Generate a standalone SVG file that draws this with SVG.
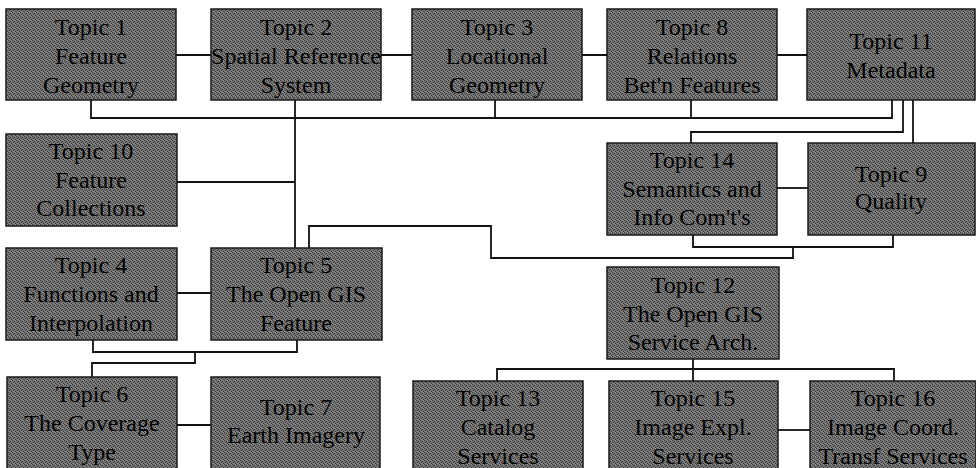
<svg xmlns="http://www.w3.org/2000/svg" width="976" height="468" viewBox="0 0 976 468">
<style>
.box{fill:url(#ht);stroke:#1a1a1a;stroke-width:1.5}
.t{font-family:"Liberation Serif","Times New Roman",serif;font-size:24px;fill:#000;text-anchor:middle}
.c{fill:none;stroke:#111;stroke-width:1.8}
</style>
<defs>
<pattern id="ht" width="4" height="4" patternUnits="userSpaceOnUse">
<rect width="4" height="4" fill="#747474"/>
<rect x="0" y="0" width="1" height="1" fill="#383838"/>
<rect x="2" y="1" width="1" height="1" fill="#383838"/>
<rect x="1" y="2" width="1" height="1" fill="#383838"/>
<rect x="3" y="3" width="1" height="1" fill="#383838"/>
<rect x="3" y="0" width="1" height="1" fill="#949494"/>
<rect x="1" y="3" width="1" height="1" fill="#949494"/>
</pattern>
</defs>
<rect width="976" height="468" fill="#fff"/>
<g id="connectors">
<path class="c" d="M176,55H211M381,55H412M582,55H607M777,55H807"/>
<path class="c" d="M91,100V118H892V100M495,100V118M691,100V118M295,100V248"/>
<path class="c" d="M903,100V132H691V143M913,100V143"/>
<path class="c" d="M177,182H295"/>
<path class="c" d="M777,188H808"/>
<path class="c" d="M693,235V247H893V235M793,247V258H491V226H309V248"/>
<path class="c" d="M177,293H211"/>
<path class="c" d="M93,340V352H297V340M195,352V363H92V377"/>
<path class="c" d="M177,425H211"/>
<path class="c" d="M693,359V381M497,381V369H894V381"/>
<path class="c" d="M778,430H810"/>
</g>
<g id="topic1"><rect class="box" x="6" y="9" width="170" height="91"/><text class="t" x="91" y="35">Topic 1</text><text class="t" x="91" y="64">Feature</text><text class="t" x="91" y="93">Geometry</text></g>
<g id="topic2"><rect class="box" x="211" y="9" width="170" height="91"/><text class="t" x="296" y="35">Topic 2</text><text class="t" x="296" y="64">Spatial Reference</text><text class="t" x="296" y="93">System</text></g>
<g id="topic3"><rect class="box" x="412" y="9" width="170" height="91"/><text class="t" x="497" y="35">Topic 3</text><text class="t" x="497" y="64">Locational</text><text class="t" x="497" y="93">Geometry</text></g>
<g id="topic8"><rect class="box" x="607" y="9" width="170" height="91"/><text class="t" x="692" y="35">Topic 8</text><text class="t" x="692" y="64">Relations</text><text class="t" x="692" y="93">Bet'n Features</text></g>
<g id="topic11"><rect class="box" x="807" y="9" width="168" height="91"/><text class="t" x="891" y="49">Topic 11</text><text class="t" x="891" y="78">Metadata</text></g>
<g id="topic10"><rect class="box" x="6" y="134" width="171" height="92"/><text class="t" x="91" y="159">Topic 10</text><text class="t" x="91" y="188">Feature</text><text class="t" x="91" y="216">Collections</text></g>
<g id="topic14"><rect class="box" x="607" y="143" width="170" height="92"/><text class="t" x="692" y="168">Topic 14</text><text class="t" x="692" y="197">Semantics and</text><text class="t" x="692" y="225">Info Com't's</text></g>
<g id="topic9"><rect class="box" x="808" y="143" width="167" height="92"/><text class="t" x="891" y="182">Topic 9</text><text class="t" x="891" y="209">Quality</text></g>
<g id="topic4"><rect class="box" x="6" y="248" width="171" height="92"/><text class="t" x="91" y="273">Topic 4</text><text class="t" x="91" y="302">Functions and</text><text class="t" x="91" y="331">Interpolation</text></g>
<g id="topic5"><rect class="box" x="211" y="248" width="171" height="92"/><text class="t" x="296" y="273">Topic 5</text><text class="t" x="296" y="302">The Open GIS</text><text class="t" x="296" y="331">Feature</text></g>
<g id="topic12"><rect class="box" x="607" y="267" width="172" height="92"/><text class="t" x="693" y="293">Topic 12</text><text class="t" x="693" y="322">The Open GIS</text><text class="t" x="693" y="350">Service Arch.</text></g>
<g id="topic6"><rect class="box" x="7" y="377" width="170" height="96"/><text class="t" x="92" y="402">Topic 6</text><text class="t" x="92" y="431">The Coverage</text><text class="t" x="92" y="460">Type</text></g>
<g id="topic7"><rect class="box" x="211" y="377" width="169" height="96"/><text class="t" x="296" y="415">Topic 7</text><text class="t" x="296" y="443">Earth Imagery</text></g>
<g id="topic13"><rect class="box" x="413" y="381" width="170" height="92"/><text class="t" x="498" y="406">Topic 13</text><text class="t" x="498" y="435">Catalog</text><text class="t" x="498" y="464">Services</text></g>
<g id="topic15"><rect class="box" x="609" y="381" width="169" height="92"/><text class="t" x="693" y="406">Topic 15</text><text class="t" x="693" y="435">Image Expl.</text><text class="t" x="693" y="464">Services</text></g>
<g id="topic16"><rect class="box" x="810" y="381" width="166" height="92"/><text class="t" x="893" y="406">Topic 16</text><text class="t" x="893" y="435">Image Coord.</text><text class="t" x="893" y="464">Transf Services</text></g>
</svg>
